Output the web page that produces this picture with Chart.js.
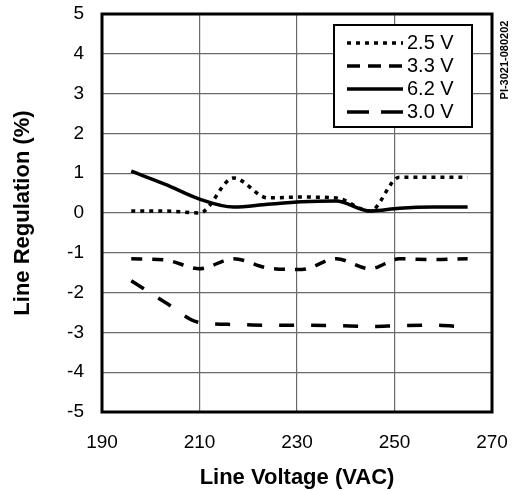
<!DOCTYPE html>
<html>
<head>
<meta charset="utf-8">
<script src="https://cdn.jsdelivr.net/npm/chart.js@4"></script>
<style>
  html, body { margin: 0; padding: 0; background: #fff; }
  #wrap { width: 512px; height: 491px; }
</style>
</head>
<body>
<div id="wrap"><canvas id="chart" width="512" height="491"></canvas></div>
<script>
// line voltage (VAC) where each curve was measured
const volts = [196, 203, 210, 217, 224, 231, 238, 245, 251, 258, 265];

// line regulation (%) per output
const reg25 = [0.05, 0.05, 0.0, 0.88, 0.38, 0.4, 0.38, 0.05, 0.9, 0.9, 0.9];
const reg33 = [-1.15, -1.18, -1.4, -1.15, -1.38, -1.42, -1.15, -1.4, -1.15, -1.17, -1.15];
const reg62 = [1.05, 0.72, 0.35, 0.15, 0.22, 0.28, 0.3, 0.05, 0.12, 0.15, 0.15];
const reg30 = [-1.7, -2.25, -2.75, -2.8, -2.82, -2.82, -2.83, -2.85, -2.83, -2.82, -2.87];

const seriesNames = ['2.5 V', '3.3 V', '6.2 V', '3.0 V'];
const xTicks = [190, 210, 230, 250, 270];
const yTicks = [-5, -4, -3, -2, -1, 0, 1, 2, 3, 4, 5];

const FONT = "'Liberation Sans', Arial, Helvetica, sans-serif";
Chart.defaults.font.family = FONT;
Chart.defaults.color = '#000';

function pts(ys) {
    return volts.map((v, i) => ({ x: v, y: ys[i] }));
}

// frame, in-plot legend and the drawing number on the right
const extras = {
    id: 'extras',
    afterDraw(chart) {
        const ctx = chart.ctx;
        const a = chart.chartArea;
        ctx.save();

        ctx.strokeStyle = '#000';
        ctx.lineWidth = 3;
        ctx.strokeRect(a.left, a.top, a.right - a.left, a.bottom - a.top);

        // legend box
        const bx = 334, by = 25, bw = 138, bh = 102;
        ctx.fillStyle = '#fff';
        ctx.fillRect(bx, by, bw, bh);
        ctx.lineWidth = 2;
        ctx.strokeRect(bx, by, bw, bh);
        ctx.font = '20px ' + FONT;
        ctx.textBaseline = 'middle';
        ctx.textAlign = 'left';
        chart.data.datasets.forEach((ds, i) => {
            const y = by + 18 + i * 23;
            ctx.beginPath();
            ctx.setLineDash(ds.legendDash || ds.borderDash || []);
            ctx.lineWidth = ds.borderWidth;
            ctx.strokeStyle = '#000';
            ctx.moveTo(347, y);
            ctx.lineTo(403, y);
            ctx.stroke();
            ctx.setLineDash([]);
            ctx.fillStyle = '#000';
            ctx.fillText(ds.label, 407, y);
        });

        // drawing number
        ctx.translate(505, 60);
        ctx.rotate(-Math.PI / 2);
        ctx.font = 'bold 11px ' + FONT;
        ctx.textAlign = 'center';
        ctx.fillText('PI-3021-080202', 0, 0);
        ctx.restore();
    }
};

const ctx = document.getElementById('chart').getContext('2d');
new Chart(ctx, {
    type: 'line',
    data: {
        datasets: [
            { label: seriesNames[0], data: pts(reg25), borderDash: [4, 5], borderWidth: 3.5 },
            { label: seriesNames[1], data: pts(reg33), borderDash: [11, 10], borderWidth: 3.5, legendDash: [13, 8] },
            { label: seriesNames[2], data: pts(reg62), borderDash: [], borderWidth: 3.5 },
            { label: seriesNames[3], data: pts(reg30), borderDash: [15, 17], borderWidth: 3.5, legendDash: [22, 12] },
        ].map(ds => Object.assign(ds, {
            borderColor: '#000',
            backgroundColor: '#000',
            pointRadius: 0,
            cubicInterpolationMode: 'monotone',
            fill: false,
            borderCapStyle: 'butt',
        })),
    },
    options: {
        responsive: false,
        animation: false,
        events: [],
        layout: { padding: { left: 0, right: 20, top: 14, bottom: 0 } },
        plugins: {
            legend: { display: false },
            tooltip: { enabled: false },
        },
        scales: {
            x: {
                type: 'linear',
                min: xTicks[0],
                max: xTicks[xTicks.length - 1],
                afterBuildTicks: s => { s.ticks = xTicks.map(v => ({ value: v })); },
                afterFit: s => { s.height = 79; s.paddingLeft = 0; s.paddingRight = 0; },
                grid: { color: '#6a6a6a', lineWidth: 1.2, drawTicks: false },
                border: { display: false },
                ticks: { font: { size: 19 }, padding: 19, maxRotation: 0 },
                title: {
                    display: true,
                    text: 'Line Voltage (VAC)',
                    font: { size: 22, weight: 'bold' },
                    padding: { top: 0, bottom: 0 },
                },
            },
            y: {
                min: yTicks[0],
                max: yTicks[yTicks.length - 1],
                afterBuildTicks: s => { s.ticks = yTicks.map(v => ({ value: v })); },
                afterFit: s => { s.width = 102; s.paddingTop = 0; s.paddingBottom = 0; },
                grid: { color: '#6a6a6a', lineWidth: 1.2, drawTicks: false },
                border: { display: false },
                ticks: { font: { size: 19 }, padding: 18 },
                title: {
                    display: true,
                    text: 'Line Regulation (%)',
                    font: { size: 22, weight: 'bold' },
                    padding: { top: 10, bottom: 0 },
                },
            },
        },
    },
    plugins: [extras],
});
</script>
</body>
</html>
